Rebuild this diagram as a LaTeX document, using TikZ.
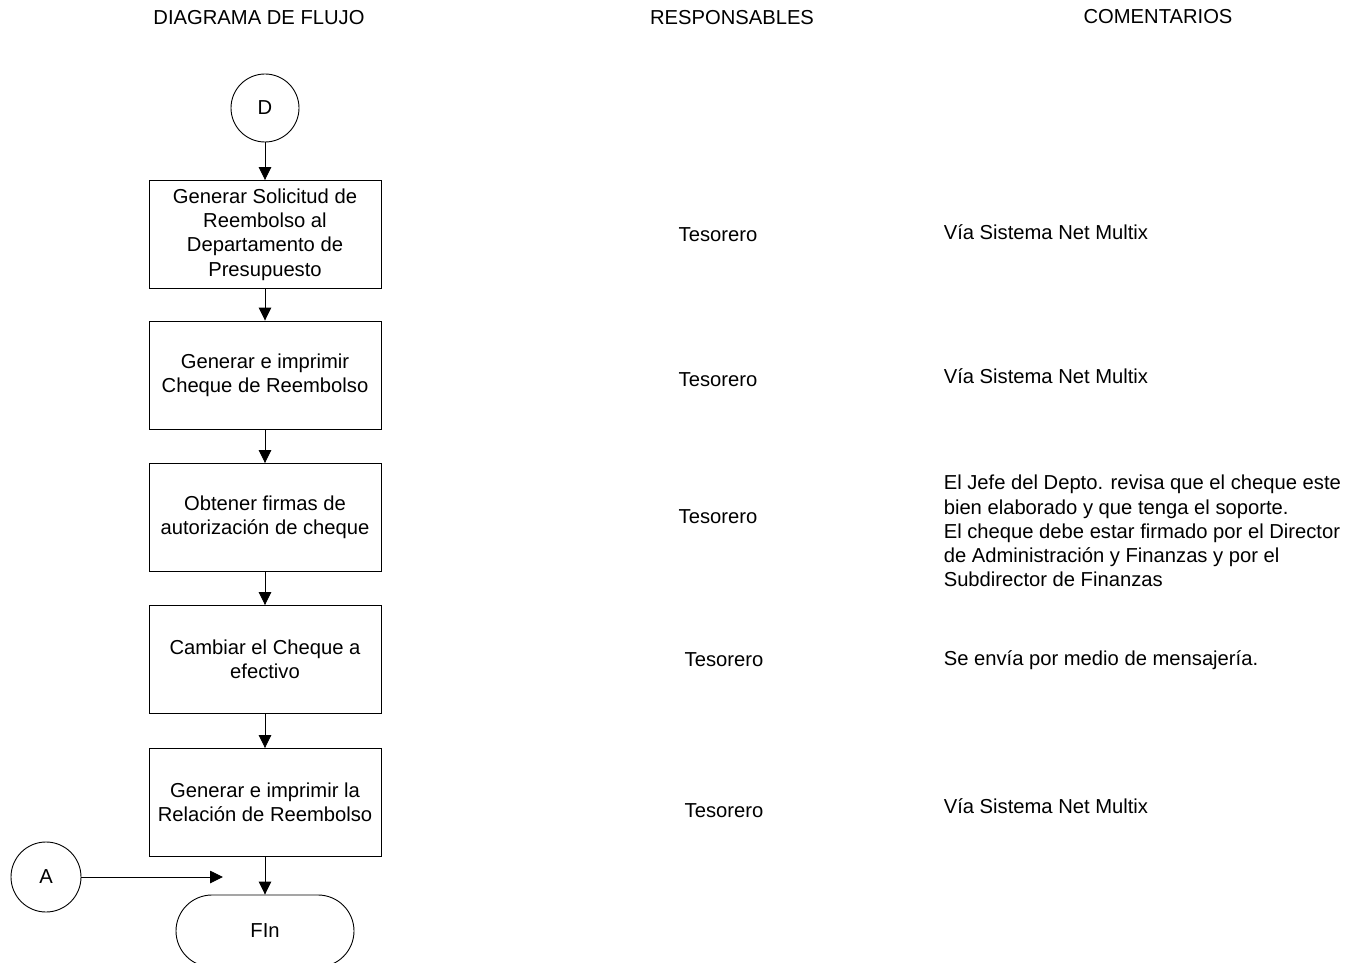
\documentclass[tikz,border=0pt]{standalone}
\usepackage{fontspec}
\setmainfont{Liberation Sans}
\usetikzlibrary{arrows.meta}
\tikzset{
  proc box/.style={draw, rectangle, minimum width=232pt, minimum height=108pt, align=center, inner sep=2pt},
  conn/.style={draw, circle, minimum size=68pt, inner sep=0pt},
  fin term/.style={draw, rectangle, rounded corners=36pt, minimum width=178pt, minimum height=72pt},
  flow/.style={-{Triangle[length=13pt,width=12.5pt]}},
  resp/.style={anchor=center},
  coment/.style={anchor=west, align=left},
}

\begin{document}
\begin{tikzpicture}[x=1pt, y=-1pt, line width=0.9pt,
  every node/.style={font=\fontsize{20.2}{24.2}\selectfont}]
  \clip (0,0) rectangle (1353,963);
  \node at (259,18) {DIAGRAMA DE FLUJO};
  \node at (732,18) {RESPONSABLES};
  \node at (1158,17) {COMENTARIOS};

  \node[conn] (d) at (265,108) {D};
  \node[proc box] (p1) at (265,234.5) {Generar Solicitud de\\Reembolso al\\Departamento de\\Presupuesto};
  \node[proc box] (p2) at (265,375) {Generar e imprimir\\Cheque de Reembolso};
  \node[proc box] (p3) at (265,517.5) {Obtener firmas de\\autorización de cheque};
  \node[proc box] (p4) at (265,659.5) {Cambiar el Cheque a\\efectivo};
  \node[proc box] (p5) at (265,802.5) {Generar e imprimir la\\Relación de Reembolso};
  \node[fin term] (fin) at (265,931) {FIn};
  \node[conn, minimum size=70pt] (a) at (46,877) {A};
  \coordinate (aend) at (223,877);

  \draw[flow] (d) -- (p1);
  \draw[flow] (p1) -- (p2);
  \draw[flow] (p2) -- (p3);
  \draw[flow] (p3) -- (p4);
  \draw[flow] (p4) -- (p5);
  \draw[flow] (p5) -- (fin);
  \draw[flow] (a) -- (aend);

  \node[resp] (r1) at (718,235) {Tesorero};
  \node[resp] (r2) at (718,380) {Tesorero};
  \node[resp] (r3) at (718,517) {Tesorero};
  \node[resp] (r4) at (724,660) {Tesorero};
  \node[resp] (r5) at (724,811) {Tesorero};

  \node[coment] (c1) at (940,232) {Vía Sistema Net Multix};
  \node[coment] (c2) at (940,376) {Vía Sistema Net Multix};
  \node[coment] (c3) at (940,531) {El Jefe del Depto. revisa que el cheque este\\bien elaborado y que tenga el soporte.\\El cheque debe estar firmado por el Director\\de Administración y Finanzas y por el\\Subdirector de Finanzas};
  \node[coment] (c4) at (940,660) {Se envía por medio de mensajería.};
  \node[coment] (c5) at (940,806) {Vía Sistema Net Multix};
\end{tikzpicture}
\end{document}
